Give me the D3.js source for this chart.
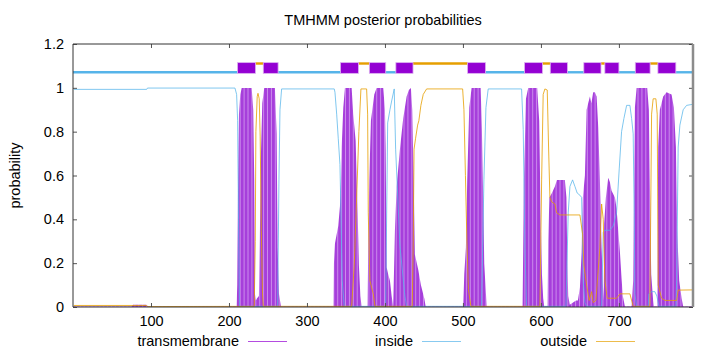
<!DOCTYPE html>
<html>
<head>
<meta charset="utf-8">
<script src="https://cdn.jsdelivr.net/npm/d3@7"></script>
<style>
  body { margin: 0; background: #fff; }
  svg { display: block; font-family: "Liberation Sans", Arial, sans-serif; }
</style>
</head>
<body>
<script>
// Size of the picture
var w = 720;
var h = 352;

// Tick values
var xTicks = [100, 200, 300, 400, 500, 600, 700];
var yTicks = [0, 0.2, 0.4, 0.6, 0.8, 1, 1.2];

// Predicted topology: [start, end, kind]
var topology = [
    [0, 211, "inside"], [211, 234, "TM"], [234, 244, "outside"], [244, 263, "TM"],
    [263, 343, "inside"], [343, 366, "TM"], [366, 380, "outside"], [380, 401, "TM"],
    [401, 414, "inside"], [414, 436, "TM"], [436, 506, "outside"], [506, 529, "TM"],
    [529, 579, "inside"], [579, 602, "TM"], [602, 612, "outside"], [612, 634, "TM"],
    [634, 655, "inside"], [655, 677, "TM"], [677, 682, "outside"], [682, 700, "TM"],
    [700, 721, "inside"], [721, 740, "TM"], [740, 750, "outside"], [750, 773, "TM"],
    [773, 795, "inside"]
];

// Posterior probability of transmembrane, [residue, probability]
var tmProb = [
    [1, 0.002], [75, 0.002], [77, 0.01], [94, 0.01], [96, 0.002],
    [209.8, 0.002], [210.6, 0.1], [211.5, 0.5], [212.8, 0.88], [214.5, 0.97], [216.3, 0.999],
    [229.1, 0.999], [231.1, 0.9], [232.4, 0.58], [233.3, 0.06], [234.5, 0.03], [236, 0.04],
    [238.4, 0.05], [239.5, 0.3], [241, 0.7], [242.7, 0.93], [245.2, 0.999],
    [258.9, 0.999], [261.1, 0.79], [262.4, 0.27], [264.1, 0.06], [266.6, 0.002],
    [334.0, 0.002], [334.6, 0.2], [335.9, 0.29], [340.1, 0.37], [342.3, 0.46], [343.6, 0.58],
    [344.5, 0.73], [346.6, 0.91], [348.7, 0.999], [357.3, 0.999], [359.3, 0.88], [362.4, 0.76],
    [365, 0.43], [366.6, 0.19], [368.5, 0.05], [370.1, 0.002],
    [377.8, 0.002], [378.6, 0.3], [379.9, 0.58], [382.0, 0.85], [386.3, 0.97], [389.3, 0.999],
    [397.8, 0.999], [400.0, 0.9], [400.9, 0.72], [402.2, 0.18], [404.2, 0.15], [406.4, 0.12],
    [408.6, 0.05], [410.6, 0.002],
    [412.8, 0.35], [415.0, 0.55], [419.2, 0.72], [423.4, 0.86], [427.8, 0.96], [430.7, 0.99],
    [433.3, 0.999], [435.0, 0.9], [436.8, 0.58], [438.4, 0.24], [442.7, 0.17], [446.1, 0.1],
    [450.4, 0.04], [452.2, 0.002],
    [500.4, 0.002], [501.7, 0.15], [503.8, 0.27], [505.5, 0.58], [508.1, 0.91], [511.1, 0.999],
    [522.7, 0.999], [524.3, 0.81], [526.0, 0.5], [527.3, 0.2], [529.5, 0.06], [530.4, 0.002],
    [576.5, 0.002], [578.2, 0.58], [580.8, 0.95], [583.7, 0.999], [595.2, 0.999], [597.8, 0.85],
    [599.6, 0.43], [601.3, 0.15], [602.9, 0.04], [604.2, 0.002],
    [608.6, 0.002], [609.3, 0.3], [610.9, 0.5], [614.1, 0.52], [617.9, 0.55], [620.5, 0.58],
    [630.7, 0.58], [632.7, 0.5], [633.9, 0.2], [635.0, 0.05], [637, 0.01], [645, 0.03],
    [647.4, 0.03], [650, 0.09], [652.2, 0.25], [653.8, 0.5], [656.4, 0.6], [658.6, 0.9],
    [660.6, 0.93], [662.8, 0.96], [664.7, 0.93], [667, 0.98], [669.2, 0.98], [671.4, 0.96],
    [673.5, 0.82], [675.6, 0.58], [677.8, 0.27], [679.5, 0.1], [680.5, 0.03],
    [681.1, 0.38], [683.3, 0.5], [686.3, 0.59], [688.4, 0.57], [690.6, 0.53], [694.9, 0.5],
    [697.0, 0.45], [699.1, 0.35], [701.3, 0.25], [703.4, 0.13], [705, 0.05], [707.7, 0.002],
    [716.3, 0.002], [718.3, 0.12], [720.5, 0.91], [722.7, 0.999], [736.3, 0.999], [738.4, 0.9],
    [739.7, 0.58], [741.4, 0.15], [743.9, 0.03], [745, 0.002],
    [749.1, 0.002], [750.4, 0.73], [752.5, 0.9], [756.8, 0.96], [761.1, 0.98], [767.5, 0.97],
    [770.5, 0.91], [773.1, 0.73], [774.7, 0.35], [777.3, 0.12], [780.4, 0.04], [782.4, 0.002],
    [795, 0.002]
];

// Posterior probability of inside
var insideProb = [
    [1, 0.993], [94.5, 0.993], [95.5, 0.999], [207.7, 0.999], [209.8, 0.97], [211.1, 0.85],
    [212.2, 0.4], [213.4, 0.003], [262.4, 0.003], [264.1, 0.58], [265.4, 0.9], [267.5, 0.995],
    [335, 0.995], [335.9, 0.98], [338.1, 0.88], [340.1, 0.77], [342.3, 0.65], [343.6, 0.43],
    [345.2, 0.12], [347.8, 0.003], [400.9, 0.003], [403.5, 0.84], [406.4, 0.9], [408.6, 0.94],
    [411.9, 0.995], [413.7, 0.72], [419.2, 0.28], [425.6, 0.05], [427.8, 0.003],
    [523.9, 0.003], [526.9, 0.58], [529.5, 0.91], [532.4, 0.995], [575.2, 0.995], [577.3, 0.81],
    [579.5, 0.27], [581.6, 0.003], [632.1, 0.003], [635, 0.43], [637.2, 0.55], [640.6, 0.58],
    [643.6, 0.55], [646.5, 0.52], [650, 0.51], [652.2, 0.5], [654.2, 0.12], [656.4, 0.02],
    [658.6, 0.003], [677.8, 0.003], [679.9, 0.34], [682, 0.35], [688.4, 0.35], [692.7, 0.37],
    [697, 0.43], [700.4, 0.63], [703.4, 0.8], [706.4, 0.86], [709.9, 0.92], [714.1, 0.92],
    [716.3, 0.86], [718.3, 0.79], [719.6, 0.43], [720.5, 0.06], [722.7, 0.003],
    [737.6, 0.003], [738.4, 0.06], [741.9, 0.07], [746.1, 0.07], [748.7, 0.05], [751.3, 0.003],
    [773.1, 0.003], [774, 0.12], [776, 0.73], [778.2, 0.83], [782.4, 0.9], [786.8, 0.92],
    [795, 0.925]
];

// Posterior probability of outside
var outsideProb = [
    [1, 0.007], [94, 0.007], [96, 0.002], [232.4, 0.003], [233.7, 0.3], [234.5, 0.8],
    [236.2, 0.96], [237.2, 0.975], [238.8, 0.95], [240, 0.78], [241.5, 0.35], [243, 0.06],
    [244, 0.003], [357.3, 0.003], [360.6, 0.19], [363.7, 0.5], [366.6, 0.8], [369.2, 0.995],
    [376.5, 0.995], [377.8, 0.88], [378.6, 0.43], [380.7, 0.12], [385, 0.06], [387.2, 0.003],
    [435, 0.003], [436.3, 0.3], [437.3, 0.72], [439.3, 0.77], [441.9, 0.83], [443.5, 0.85],
    [446.1, 0.92], [449.1, 0.97], [453.4, 0.995], [499.6, 0.995], [501.3, 0.9], [503.2, 0.6],
    [505.1, 0.3], [507, 0.08], [510.2, 0.003], [598.7, 0.003], [600.9, 0.58], [602.9, 0.97],
    [605.1, 0.995], [608.1, 0.99], [609.8, 0.73], [611.5, 0.5], [613.7, 0.48], [617.9, 0.47],
    [620.1, 0.43], [624.3, 0.42], [650, 0.42], [653.5, 0.33], [655.1, 0.19], [658.6, 0.1],
    [661.9, 0.03], [665, 0.07], [667, 0.02], [670.5, 0.03], [675.6, 0.27], [677.8, 0.47],
    [679.9, 0.4], [682, 0.12], [685, 0.04], [697, 0.04], [701.3, 0.06], [714.1, 0.06],
    [718.3, 0.003], [739.7, 0.003], [741.9, 0.88], [743.9, 0.95], [747.4, 0.95], [749.1, 0.88],
    [750.4, 0.1], [754.7, 0.04], [759, 0.03], [774, 0.03], [776, 0.077], [795, 0.078]
];

var purple = "#9400d3";
var blue = "#56b4e9";
var orange = "#e69f00";

// plot area edges
var padL = 73, padR = 693, padT = 44, padB = 307;

var xScale = d3.scaleLinear().domain([0, 795]).range([padL, padR]);
var yScale = d3.scaleLinear().domain([0, 1.2]).range([padB, padT]);

var svg = d3.select("body")
    .append("svg")
    .attr("width", w)
    .attr("height", h);

// stripes that imitate the gnuplot impulses
var defs = svg.append("defs");
var pat = defs.append("pattern")
    .attr("id", "imp")
    .attr("patternUnits", "userSpaceOnUse")
    .attr("x", padL)
    .attr("width", 3.9)
    .attr("height", 10);
pat.append("rect").attr("width", 3.9).attr("height", 10).attr("fill", "#a63edb");
pat.append("rect").attr("x", 2.9).attr("width", 1).attr("height", 10).attr("fill", "#cb8bec");

defs.append("clipPath").attr("id", "plot")
    .append("rect")
    .attr("x", padL).attr("y", padT)
    .attr("width", padR - padL).attr("height", padB - padT);

var plot = svg.append("g").attr("clip-path", "url(#plot)");

// transmembrane probability
var area = d3.area()
    .x(function(d) { return xScale(d[0]); })
    .y0(padB)
    .y1(function(d) { return yScale(d[1]); });

plot.append("path")
    .datum(tmProb)
    .attr("d", area)
    .attr("fill", "url(#imp)");

var line = d3.line()
    .x(function(d) { return xScale(d[0]); })
    .y(function(d) { return yScale(d[1]); });

plot.append("path")
    .datum(insideProb)
    .attr("d", line)
    .attr("fill", "none")
    .attr("stroke", blue)
    .attr("stroke-opacity", 0.75)
    .attr("stroke-width", 1);

plot.append("path")
    .datum(outsideProb)
    .attr("d", line)
    .attr("fill", "none")
    .attr("stroke", orange)
    .attr("stroke-opacity", 0.8)
    .attr("stroke-width", 1);

// topology bar above the curves
plot.selectAll(".seg")
    .data(topology.filter(function(d) { return d[2] !== "TM"; }))
    .enter()
    .append("line")
    .attr("class", "seg")
    .attr("x1", function(d) { return xScale(d[0]); })
    .attr("x2", function(d) { return xScale(d[1]); })
    .attr("y1", function(d) { return yScale(d[2] === "inside" ? 1.071 : 1.111); })
    .attr("y2", function(d) { return yScale(d[2] === "inside" ? 1.071 : 1.111); })
    .attr("stroke", function(d) { return d[2] === "inside" ? blue : orange; })
    .attr("stroke-width", 2.4);

plot.selectAll(".box")
    .data(topology.filter(function(d) { return d[2] === "TM"; }))
    .enter()
    .append("rect")
    .attr("class", "box")
    .attr("x", function(d) { return xScale(d[0]); })
    .attr("width", function(d) { return xScale(d[1]) - xScale(d[0]); })
    .attr("y", yScale(1.115))
    .attr("height", yScale(1.066) - yScale(1.115))
    .attr("fill", purple)
    .attr("stroke", "#dcb0f0")
    .attr("stroke-width", 0.8);

// axes, ticks pointing inwards like gnuplot
var xAxis = d3.axisBottom(xScale).tickValues(xTicks).tickSizeInner(-4).tickSizeOuter(0).tickPadding(9);
var yAxis = d3.axisLeft(yScale).tickValues(yTicks).tickSizeInner(-4).tickSizeOuter(0).tickPadding(9)
    .tickFormat(function(d) { return d3.format("~g")(d); });

function style(g) {
    g.select(".domain").remove();
    g.selectAll(".tick line").attr("stroke", "#555");
    g.selectAll(".tick text").attr("font-size", "14.5px").attr("fill", "#000")
        .attr("font-family", "Liberation Sans, Arial, sans-serif");
}

svg.append("g").attr("transform", "translate(0," + padB + ")").call(xAxis).call(style);
svg.append("g").attr("transform", "translate(" + padL + ",0)").call(yAxis).call(style);
svg.append("g").attr("transform", "translate(0," + padT + ")")
    .call(d3.axisTop(xScale).tickValues(xTicks).tickSizeInner(-4).tickSizeOuter(0).tickFormat(""))
    .call(style);
svg.append("g").attr("transform", "translate(" + padR + ",0)")
    .call(d3.axisRight(yScale).tickValues(yTicks).tickSizeInner(-4).tickSizeOuter(0).tickFormat(""))
    .call(style);

// border
svg.append("path")
    .attr("d", "M" + padR + "," + padB + "H" + padL + "V" + padT + "H" + padR)
    .attr("fill", "none")
    .attr("stroke", "#333")
    .attr("stroke-width", 1);
svg.append("line")
    .attr("x1", padR).attr("x2", padR).attr("y1", padT).attr("y2", padB)
    .attr("stroke", "#8c8c8c").attr("stroke-width", 2.5);

// title and label
svg.append("text")
    .attr("x", (padL + padR) / 2)
    .attr("y", 25)
    .attr("text-anchor", "middle")
    .attr("font-size", "14.5px")
    .text("TMHMM posterior probabilities");

svg.append("text")
    .attr("transform", "translate(20," + ((padT + padB) / 2) + ") rotate(-90)")
    .attr("text-anchor", "middle")
    .attr("font-size", "14.5px")
    .text("probability");

// legend along the bottom
var legendNames = ["transmembrane", "inside", "outside"];
var legendColors = [purple, blue, orange];

var legend = svg.selectAll(".legend")
    .data(legendNames)
    .enter()
    .append("g")
    .attr("class", "legend")
    .attr("transform", function(d, i) { return "translate(" + (239 + i * 174) + ",0)"; });

legend.append("text")
    .attr("x", 0)
    .attr("y", 346)
    .attr("text-anchor", "end")
    .attr("font-size", "14.5px")
    .text(function(d) { return d; });

legend.append("line")
    .attr("x1", 9).attr("x2", 48)
    .attr("y1", 341.5).attr("y2", 341.5)
    .attr("stroke", function(d) { return legendColors[legendNames.indexOf(d)]; })
    .attr("stroke-opacity", 0.7)
    .attr("stroke-width", 1);
</script>
</body>
</html>
